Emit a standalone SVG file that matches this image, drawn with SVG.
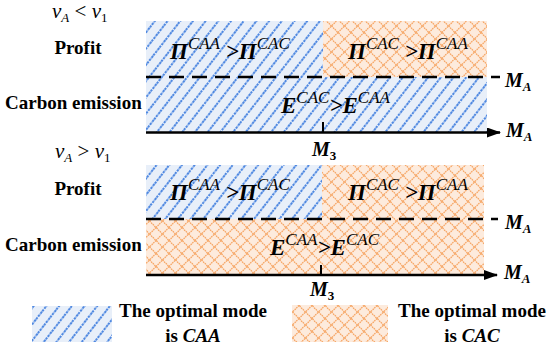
<svg xmlns="http://www.w3.org/2000/svg" width="550" height="352" viewBox="0 0 550 352">
<style>
.lbl{font-weight:bold;font-size:19px;fill:#000}
.m{font-weight:bold;font-style:italic;font-size:23px;fill:#000}
.sup{font-weight:normal;font-size:17px}
.ma{font-weight:bold;font-style:italic;font-size:20px;fill:#000}
.sub{font-size:13px}
.v{font-style:italic;font-size:21px;fill:#000}
.ax{stroke:#000;stroke-width:2.5;fill:none}
.dash{stroke:#000;stroke-width:2.5;stroke-dasharray:15 8;fill:none}
</style>
<defs>
<pattern id="blue" patternUnits="userSpaceOnUse" width="10" height="10" patternTransform="rotate(38)">
<rect width="10" height="10" fill="#e8eff9"/>
<line x1="5" y1="0" x2="5" y2="10" stroke="#2a6fdc" stroke-width="1.6" stroke-dasharray="2.5 1"/>
</pattern>
<pattern id="orange" patternUnits="userSpaceOnUse" width="13" height="13">
<rect width="13" height="13" fill="#fdebdd"/>
<path d="M0,6.5 L6.5,0 L13,6.5 L6.5,13 Z" fill="none" stroke="#f6a25e" stroke-width="1.3" stroke-dasharray="1.5 0.8"/>
</pattern>
<marker id="arr" markerWidth="14" markerHeight="10" refX="13" refY="5" orient="auto" markerUnits="userSpaceOnUse" viewBox="0 0 14 10">
<path d="M0,0 L14,5 L0,10 Z" fill="#000"/>
</marker>
</defs>

<g id="panel-top">
<rect x="146" y="21" width="341" height="111" fill="url(#blue)"/>
<rect x="323" y="21" width="164" height="56" fill="url(#orange)"/>
</g>
<g id="panel-bottom">
<rect x="146" y="165" width="338" height="110" fill="url(#orange)"/>
<rect x="146" y="165" width="176" height="54" fill="url(#blue)"/>
</g>

<g id="connectors">
<line class="dash" x1="146" y1="77" x2="500" y2="77"/>
<line class="ax" x1="146" y1="132.5" x2="500" y2="132.5" marker-end="url(#arr)"/>
<line x1="323" y1="122" x2="323" y2="132" stroke="#000" stroke-width="2"/>
<line class="dash" x1="146" y1="219" x2="498" y2="219"/>
<line class="ax" x1="146" y1="275" x2="497" y2="275" marker-end="url(#arr)"/>
<line x1="321" y1="265" x2="321" y2="275" stroke="#000" stroke-width="2"/>
</g>

<g id="labels-top" font-family="Liberation Serif">
<text class="v" x="52" y="18">v<tspan class="sub" dy="4">A</tspan><tspan dy="-4" font-style="normal"> &lt; </tspan>v<tspan class="sub" dy="4" font-style="normal">1</tspan></text>
<text class="lbl" x="78" y="54" text-anchor="middle">Profit</text>
<text class="lbl" x="5" y="109">Carbon emission</text>
<text class="m" x="170" y="59">Π<tspan class="sup" dy="-10">CAA</tspan><tspan dy="10"> &gt;Π</tspan><tspan class="sup" dy="-10">CAC</tspan></text>
<text class="m" x="348" y="59">Π<tspan class="sup" dy="-10">CAC</tspan><tspan dy="10"> &gt;Π</tspan><tspan class="sup" dy="-10">CAA</tspan></text>
<text class="m" x="281" y="113">E<tspan class="sup" dy="-10">CAC</tspan><tspan dy="10">&gt;E</tspan><tspan class="sup" dy="-10">CAA</tspan></text>
<text class="ma" x="505" y="87">M<tspan class="sub" dy="4">A</tspan></text>
<text class="ma" x="506" y="137">M<tspan class="sub" dy="4">A</tspan></text>
<text class="ma" x="312" y="156">M<tspan class="sub" dy="4" font-style="normal">3</tspan></text>
</g>

<g id="labels-bottom" font-family="Liberation Serif">
<text class="v" x="55" y="158">v<tspan class="sub" dy="4">A</tspan><tspan dy="-4" font-style="normal"> &gt; </tspan>v<tspan class="sub" dy="4" font-style="normal">1</tspan></text>
<text class="lbl" x="78" y="195" text-anchor="middle">Profit</text>
<text class="lbl" x="5" y="251">Carbon emission</text>
<text class="m" x="170" y="200">Π<tspan class="sup" dy="-10">CAA</tspan><tspan dy="10"> &gt;Π</tspan><tspan class="sup" dy="-10">CAC</tspan></text>
<text class="m" x="348" y="200">Π<tspan class="sup" dy="-10">CAC</tspan><tspan dy="10"> &gt;Π</tspan><tspan class="sup" dy="-10">CAA</tspan></text>
<text class="m" x="270" y="255">E<tspan class="sup" dy="-10">CAA</tspan><tspan dy="10">&gt;E</tspan><tspan class="sup" dy="-10">CAC</tspan></text>
<text class="ma" x="505" y="229">M<tspan class="sub" dy="4">A</tspan></text>
<text class="ma" x="504" y="279">M<tspan class="sub" dy="4">A</tspan></text>
<text class="ma" x="310" y="296">M<tspan class="sub" dy="4" font-style="normal">3</tspan></text>
</g>

<g id="legend-caa" font-family="Liberation Serif">
<rect x="32" y="306" width="80" height="36" fill="url(#blue)"/>
<text class="lbl" x="193" y="317" text-anchor="middle">The optimal mode</text>
<text class="lbl" x="193" y="342" text-anchor="middle">is <tspan font-style="italic">CAA</tspan></text>
</g>
<g id="legend-cac" font-family="Liberation Serif">
<rect x="292" y="305" width="96" height="37" fill="url(#orange)"/>
<text class="lbl" x="472" y="317" text-anchor="middle">The optimal mode</text>
<text class="lbl" x="472" y="342" text-anchor="middle">is <tspan font-style="italic">CAC</tspan></text>
</g>
</svg>
